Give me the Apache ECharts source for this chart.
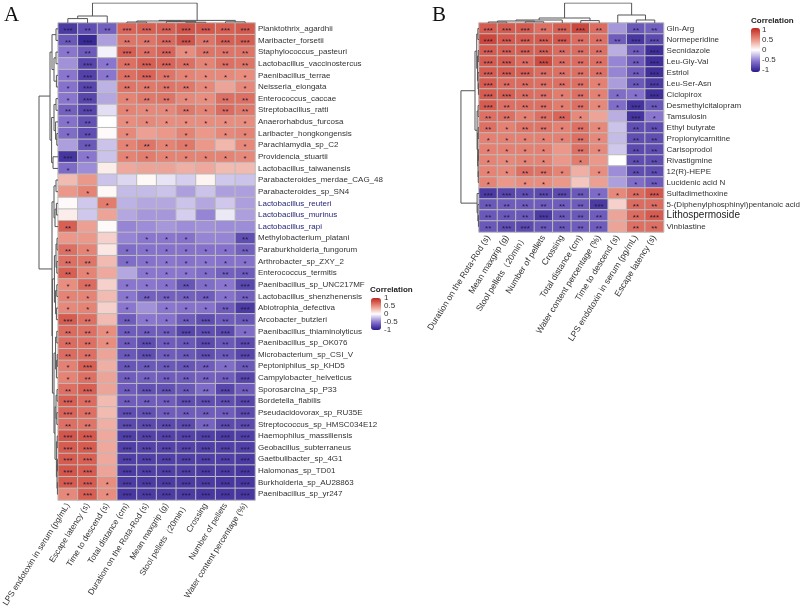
<!DOCTYPE html>
<html><head><meta charset="utf-8">
<script src="https://cdn.jsdelivr.net/npm/echarts@6/dist/echarts.min.js"></script>
<style>html,body{margin:0;padding:0;background:#fff}#c{width:803px;height:613px}</style>
</head><body><div id="c"></div>
<script>
const colsA = ['LPS endotoxin in serum (pg/mL)','Escape latency (s)','Time to descend (s)','Total distance (cm)','Duration on the Rota-Rod (s)','Mean maxgrip (g)','Stool pellets（20min）','Crossing','Number of pellets','Water content percentage (%)'];
const rowsA = ['Planktothrix_agardhii','Maribacter_forsetii','Staphylococcus_pasteuri','Lactobacillus_vaccinostercus','Paenibacillus_terrae','Neisseria_elongata','Enterococcus_caccae','Streptobacillus_ratti','Anaerorhabdus_furcosa','Laribacter_hongkongensis','Parachlamydia_sp_C2','Providencia_stuartii','Lactobacillus_taiwanensis','Parabacteroides_merdae_CAG_48','Parabacteroides_sp_SN4','Lactobacillus_reuteri','Lactobacillus_murinus','Lactobacillus_rapi','Methylobacterium_platani','Paraburkholderia_fungorum','Arthrobacter_sp_ZXY_2','Enterococcus_termitis','Paenibacillus_sp_UNC217MF','Lactobacillus_shenzhenensis','Abiotrophia_defectiva','Arcobacter_butzleri','Paenibacillus_thiaminolyticus','Paenibacillus_sp_OK076','Microbacterium_sp_CSI_V','Peptoniphilus_sp_KHD5','Campylobacter_helveticus','Sporosarcina_sp_P33','Bordetella_flabilis','Pseudacidovorax_sp_RU35E','Streptococcus_sp_HMSC034E12','Haemophilus_massiliensis','Geobacillus_subterraneus','Gaetbulibacter_sp_4G1','Halomonas_sp_TD01','Burkholderia_sp_AU28863','Paenibacillus_sp_yr247'];
const blueRowsA = ['Lactobacillus_reuteri','Lactobacillus_murinus','Lactobacillus_rapi'];
const valuesA = [
[-0.82,-0.72,-0.62,0.70,0.72,0.72,0.78,0.76,0.72,0.75],
[-0.66,-0.92,-0.35,0.62,0.62,0.68,0.78,0.62,0.72,0.72],
[-0.50,-0.65,-0.05,0.72,0.64,0.70,0.50,0.62,0.62,0.62],
[-0.40,-0.76,-0.50,0.64,0.72,0.70,0.64,0.55,0.64,0.62],
[-0.50,-0.78,-0.50,0.64,0.70,0.62,0.55,0.52,0.52,0.50],
[-0.52,-0.76,-0.28,0.62,0.60,0.62,0.60,0.52,0.40,0.52],
[-0.50,-0.76,-0.32,0.55,0.60,0.62,0.52,0.50,0.64,0.64],
[-0.62,-0.76,-0.12,0.55,0.52,0.52,0.60,0.55,0.66,0.60],
[-0.52,-0.70,0.00,0.50,0.52,0.50,0.50,0.50,0.50,0.50],
[-0.55,-0.72,0.02,0.52,0.42,0.45,0.55,0.45,0.52,0.55],
[-0.35,-0.66,-0.22,0.55,0.62,0.55,0.60,0.45,0.32,0.52],
[-0.85,-0.50,-0.22,0.55,0.58,0.55,0.55,0.55,0.55,0.52],
[-0.56,-0.42,0.08,0.38,0.40,0.40,0.35,0.38,0.30,0.30],
[0.30,0.45,-0.22,-0.15,0.03,-0.10,-0.18,0.05,-0.20,-0.22],
[0.45,0.55,0.03,-0.25,-0.25,-0.22,-0.35,-0.22,-0.35,-0.35],
[0.02,-0.20,0.58,-0.28,-0.32,-0.32,-0.22,-0.32,-0.20,-0.35],
[0.08,-0.20,0.40,-0.32,-0.38,-0.38,-0.18,-0.45,-0.08,-0.35],
[0.72,0.42,0.02,-0.45,-0.42,-0.38,-0.42,-0.40,-0.42,-0.42],
[0.45,0.45,0.20,-0.45,-0.50,-0.50,-0.52,-0.45,-0.45,-0.72],
[0.64,0.55,0.10,-0.55,-0.52,-0.52,-0.52,-0.52,-0.52,-0.62],
[0.64,0.62,0.30,-0.55,-0.52,-0.50,-0.52,-0.50,-0.52,-0.52],
[0.72,0.55,0.38,-0.32,-0.50,-0.50,-0.50,-0.55,-0.62,-0.64],
[0.50,0.66,0.20,-0.50,-0.50,-0.52,-0.68,-0.55,-0.50,-0.75],
[0.55,0.55,0.30,-0.50,-0.62,-0.62,-0.62,-0.64,-0.52,-0.62],
[0.52,0.55,0.20,-0.50,-0.40,-0.50,-0.52,-0.52,-0.64,-0.82],
[0.74,0.64,0.30,-0.64,-0.50,-0.52,-0.64,-0.72,-0.64,-0.66],
[0.66,0.64,0.50,-0.64,-0.64,-0.64,-0.76,-0.72,-0.74,-0.55],
[0.66,0.64,0.50,-0.64,-0.72,-0.64,-0.66,-0.74,-0.66,-0.74],
[0.66,0.64,0.40,-0.66,-0.72,-0.64,-0.66,-0.72,-0.66,-0.76],
[0.56,0.72,0.35,-0.68,-0.66,-0.66,-0.68,-0.64,-0.55,-0.66],
[0.55,0.64,0.40,-0.64,-0.62,-0.64,-0.64,-0.62,-0.64,-0.76],
[0.64,0.72,0.40,-0.64,-0.70,-0.70,-0.66,-0.56,-0.76,-0.64],
[0.72,0.66,0.30,-0.64,-0.64,-0.64,-0.72,-0.72,-0.72,-0.76],
[0.70,0.64,0.30,-0.72,-0.70,-0.64,-0.64,-0.64,-0.64,-0.74],
[0.64,0.62,0.35,-0.74,-0.74,-0.74,-0.74,-0.60,-0.74,-0.74],
[0.77,0.76,0.38,-0.80,-0.78,-0.78,-0.78,-0.80,-0.82,-0.80],
[0.74,0.74,0.38,-0.80,-0.78,-0.78,-0.78,-0.80,-0.80,-0.80],
[0.74,0.72,0.38,-0.80,-0.80,-0.80,-0.80,-0.80,-0.80,-0.82],
[0.77,0.74,0.40,-0.82,-0.80,-0.80,-0.80,-0.82,-0.82,-0.84],
[0.74,0.74,0.50,-0.82,-0.82,-0.82,-0.82,-0.82,-0.84,-0.84],
[0.52,0.72,0.50,-0.84,-0.82,-0.82,-0.82,-0.84,-0.84,-0.84]
];
const starsA = ['3223333333','2302233233','1203231222','0312332122','1312321111','1302222101','1301221122','2301112122','1201111111','1201001011','0201211001','3101111111','1000000000','0000000000','0100000000','0010000000','0000000000','2000000000','0000111002','2101111112','2201111111','2100111122','1201112113','1101222212','1101011123','3202112322','2212223331','2212322323','2202322323','1302222212','1202222223','2302332232','3202223333','3203322223','2203333233','3303333333','3303333333','3303333333','3303333333','3313333333','1313333333'];

const colsB = ['Duration on the Rota-Rod (s)','Mean maxgrip (g)','Stool pellets（20min）','Number of pellets','Crossing','Total distance (cm)','Water content percentage (%)','Time to descend (s)','LPS endotoxin in serum (pg/mL)','Escape latency (s)'];
const rowsB = ['Gln-Arg','Normeperidine','Secnidazole','Leu-Gly-Val','Estriol','Leu-Ser-Asn','Ciclopirox','Desmethylcitalopram','Tamsulosin','Ethyl butyrate','Propionylcarnitine','Carisoprodol','Rivastigmine','12(R)-HEPE','Lucidenic acid N','Sulfadimethoxine','5-(Diphenylphosphinyl)pentanoic acid','Lithospermoside','Vinblastine'];
const bigRowsB = ['Lithospermoside'];
const valuesB = [
[0.74,0.74,0.74,0.64,0.72,0.84,0.66,-0.38,-0.66,-0.62],
[0.84,0.76,0.74,0.74,0.76,0.66,0.64,-0.64,-0.84,-0.74],
[0.74,0.72,0.72,0.72,0.66,0.66,0.64,-0.30,-0.64,-0.88],
[0.74,0.74,0.66,0.82,0.66,0.66,0.64,-0.45,-0.64,-0.88],
[0.74,0.74,0.72,0.66,0.64,0.64,0.64,-0.45,-0.64,-0.88],
[0.74,0.66,0.66,0.64,0.64,0.64,0.56,-0.36,-0.66,-0.82],
[0.74,0.72,0.66,0.64,0.58,0.64,0.56,-0.55,-0.52,-0.88],
[0.74,0.64,0.64,0.64,0.58,0.64,0.52,-0.55,-0.86,-0.66],
[0.64,0.64,0.56,0.64,0.70,0.52,0.40,-0.30,-0.86,-0.50],
[0.64,0.56,0.62,0.62,0.56,0.64,0.52,-0.22,-0.72,-0.72],
[0.56,0.56,0.56,0.56,0.56,0.64,0.52,-0.25,-0.72,-0.72],
[0.56,0.56,0.56,0.56,0.45,0.64,0.52,-0.20,-0.74,-0.72],
[0.55,0.52,0.55,0.55,0.45,0.58,0.45,0.00,-0.72,-0.72],
[0.55,0.52,0.64,0.62,0.55,0.35,0.50,-0.42,-0.72,-0.72],
[0.55,0.45,0.50,0.50,0.45,0.25,0.42,-0.35,-0.55,-0.64],
[-0.82,-0.76,-0.72,-0.74,-0.74,-0.66,-0.56,0.52,0.66,0.76],
[-0.66,-0.64,-0.64,-0.64,-0.64,-0.64,-0.82,0.20,0.66,0.66],
[-0.66,-0.66,-0.66,-0.82,-0.66,-0.66,-0.64,0.40,0.66,0.74],
[-0.66,-0.72,-0.74,-0.66,-0.66,-0.64,-0.64,0.40,0.64,0.64]
];
const starsB = ['3332332022','3333322233','3333222023','3323222023','3332222023','3222221023','3322121113','3222121132','2212210031','2122121022','1111121022','1111021022','1111010022','1122101022','1011000012','3323321123','2222223022','2223222023','2332222022'];

// dendrogram trees: [mergeHeight, left, right]; numbers are leaf indices
const colTreeA = [1.0, [0.35, 2, [0.22, 0, 1]], [0.13, [0.1, [0.05, 3, 4], [0.07, 5, [0.04, 6, 7]]], [0.06, 8, 9]]];
const rowTreeA = [0.95,
  [0.4, [0.3, [0.1, 0, 1], [0.2, [0.1, 2, 3], [0.08, 4, 5]]],
        [0.32, [0.2, [0.1, 6, 7], [0.12, 8, [0.06, 9, 10]]], [0.25, 11, 12]]],
  [0.3, [0.2, [0.1, 13, 14], [0.15, [0.08, 15, 16], 17]],
        [0.28, [0.18, [0.1, [0.05, 18, 19], [0.06, 20, 21]], [0.12, [0.06, 22, 23], [0.08, 24, 25]]],
               [0.2, [0.12, [0.06, 26, 27], [0.08, [0.04, 28, 29], 30]],
                     [0.15, [0.1, [0.05, 31, 32], [0.06, 33, 34]], [0.08, [0.04, 35, 36], [0.05, [0.03, 37, 38], [0.03, 39, 40]]]]]]]];
const colTreeB = [1.0, [0.25, [0.15, [0.1, [0.05, 0, 1], [0.06, 2, 3]], 4], [0.12, 5, 6]], [0.4, 7, [0.15, 8, 9]]];
const rowTreeB = [0.95,
  [0.21, [0.12, [0.06, 0, 1], [0.08, [0.04, 2, 3], [0.05, 4, [0.03, 5, 6]]]],
         [0.1, [0.05, 7, 8], [0.07, [0.04, 9, 10], [0.05, [0.03, 11, 12], [0.04, 13, 14]]]]],
  [0.1, 15, [0.06, 16, [0.03, 17, 18]]]];

function dendro(tree, segs) {
  if (typeof tree === 'number') return { p: tree + 0.5, h: 0 };
  const a = dendro(tree[1], segs), b = dendro(tree[2], segs);
  segs.push([[a.p, a.h], [a.p, tree[0]], [b.p, tree[0]], [b.p, b.h]]);
  return { p: (a.p + b.p) / 2, h: tree[0] };
}
function colSegs(tree) { const s = []; dendro(tree, s); return s.map(c => ({ coords: c })); }
function rowSegs(tree) { const s = []; dendro(tree, s); return s.map(c => ({ coords: c.map(q => [q[1], q[0]]) })); }

function heatData(vals) {
  const d = [];
  vals.forEach((row, i) => row.forEach((v, j) => d.push([j, i, v])));
  return d;
}
const starStr = n => '*'.repeat(n);

const chart = echarts.init(document.getElementById('c'), null, { renderer: 'canvas' });
const font = 'Liberation Sans, Arial, Helvetica, sans-serif';
const hidden = { show: false };
const lineStyle = { color: '#555', width: 1, opacity: 1 };
const colorRange = ['#2a1a8c', '#8a76cf', '#ffffff', '#e98d7e', '#c0271d'];

const catX = (data, fs) => ({
  type: 'category', data: data, position: 'bottom',
  axisLine: hidden, axisTick: hidden, splitLine: hidden,
  axisLabel: { interval: 0, rotate: 58, fontSize: fs, color: '#333', margin: 4, fontFamily: font }
});

const option = {
  backgroundColor: '#fff',
  animation: false,
  textStyle: { fontFamily: font },
  grid: [
    { left: 58, top: 23, width: 197, height: 477 },
    { left: 479, top: 23, width: 185, height: 209 },
    { left: 58, top: 3, width: 197, height: 20 },
    { left: 38, top: 23, width: 20, height: 477 },
    { left: 479, top: 3, width: 185, height: 20 },
    { left: 460, top: 23, width: 19, height: 209 }
  ],
  xAxis: [
    Object.assign(catX(colsA, 8.3), { gridIndex: 0 }),
    Object.assign(catX(colsB, 8.6), { gridIndex: 1 }),
    { type: 'value', gridIndex: 2, min: 0, max: 10, show: false },
    { type: 'value', gridIndex: 3, min: 0, max: 1, inverse: true, show: false },
    { type: 'value', gridIndex: 4, min: 0, max: 10, show: false },
    { type: 'value', gridIndex: 5, min: 0, max: 1, inverse: true, show: false }
  ],
  yAxis: [
    { type: 'category', gridIndex: 0, data: rowsA, inverse: true, position: 'right',
      axisLine: hidden, axisTick: hidden, splitLine: hidden,
      axisLabel: { interval: 0, fontSize: 8, color: '#333', margin: 3, fontFamily: font,
        formatter: v => blueRowsA.includes(v) ? '{b|' + v + '}' : v,
        rich: { b: { color: '#26267a', fontSize: 8, fontFamily: font } } } },
    { type: 'category', gridIndex: 1, data: rowsB, inverse: true, position: 'right',
      axisLine: hidden, axisTick: hidden, splitLine: hidden,
      axisLabel: { interval: 0, fontSize: 8, color: '#333', margin: 3, fontFamily: font,
        formatter: v => bigRowsB.includes(v) ? '{g|' + v + '}' : v,
        rich: { g: { color: '#222', fontSize: 10, fontFamily: font } } } },
    { type: 'value', gridIndex: 2, min: 0, max: 1, show: false },
    { type: 'value', gridIndex: 3, min: 0, max: 41, inverse: true, show: false },
    { type: 'value', gridIndex: 4, min: 0, max: 1, show: false },
    { type: 'value', gridIndex: 5, min: 0, max: 19, inverse: true, show: false }
  ],
  visualMap: [
    { type: 'continuous', min: -1, max: 1, seriesIndex: 0, dimension: 2, calculable: false,
      left: 371, top: 298, itemWidth: 10, itemHeight: 32, padding: 0, text: null,
      inRange: { color: colorRange } },
    { type: 'continuous', min: -1, max: 1, seriesIndex: 1, dimension: 2, calculable: false,
      left: 751, top: 28, itemWidth: 9, itemHeight: 44, padding: 0, text: null,
      inRange: { color: colorRange } }
  ],
  series: [
    { type: 'heatmap', xAxisIndex: 0, yAxisIndex: 0, data: heatData(valuesA),
      itemStyle: { borderColor: '#bcbcbc', borderWidth: 1 },
      label: { show: true, fontSize: 8, color: '#1c1c3c', offset: [0, 2],
        formatter: p => starStr(+starsA[p.value[1]][p.value[0]]) } },
    { type: 'heatmap', xAxisIndex: 1, yAxisIndex: 1, data: heatData(valuesB),
      itemStyle: { borderColor: '#bcbcbc', borderWidth: 1 },
      label: { show: true, fontSize: 8, color: '#1c1c3c', offset: [0, 2],
        formatter: p => starStr(+starsB[p.value[1]][p.value[0]]) } },
    { type: 'lines', coordinateSystem: 'cartesian2d', xAxisIndex: 2, yAxisIndex: 2, polyline: true, silent: true,
      lineStyle: lineStyle, data: colSegs(colTreeA) },
    { type: 'lines', coordinateSystem: 'cartesian2d', xAxisIndex: 3, yAxisIndex: 3, polyline: true, silent: true,
      lineStyle: lineStyle, data: rowSegs(rowTreeA) },
    { type: 'lines', coordinateSystem: 'cartesian2d', xAxisIndex: 4, yAxisIndex: 4, polyline: true, silent: true,
      lineStyle: lineStyle, data: colSegs(colTreeB) },
    { type: 'lines', coordinateSystem: 'cartesian2d', xAxisIndex: 5, yAxisIndex: 5, polyline: true, silent: true,
      lineStyle: lineStyle, data: rowSegs(rowTreeB) }
  ],
  graphic: [
    { type: 'text', left: 4, top: 5, style: { text: 'A', fontSize: 21, fontFamily: 'Liberation Serif, DejaVu Serif, serif', fill: '#111' } },
    { type: 'text', left: 432, top: 5, style: { text: 'B', fontSize: 21, fontFamily: 'Liberation Serif, DejaVu Serif, serif', fill: '#111' } },
    { type: 'text', left: 370, top: 286, style: { text: 'Correlation', fontSize: 8, fontWeight: 'bold', fill: '#222', fontFamily: font } },
    { type: 'text', left: 751, top: 17, style: { text: 'Correlation', fontSize: 8, fontWeight: 'bold', fill: '#222', fontFamily: font } }
  ].concat(
    ['1', '0.5', '0', '-0.5', '-1'].map((t, k) => ({ type: 'text', left: 384, top: 294 + k * 8, style: { text: t, fontSize: 8, fill: '#333', fontFamily: font } })),
    ['1', '0.5', '0', '-0.5', '-1'].map((t, k) => ({ type: 'text', left: 762, top: 26 + k * 10, style: { text: t, fontSize: 8, fill: '#333', fontFamily: font } }))
  )
};
chart.setOption(option);
</script></body></html>
